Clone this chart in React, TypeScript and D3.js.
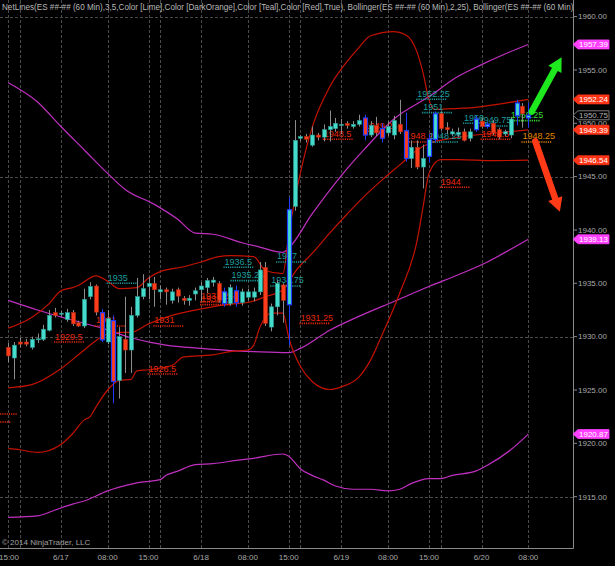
import * as React from 'react';
import * as d3 from 'd3';

const W = 615;
const H = 566;
const plot = { right: 573, bottom: 548 };
const FONT = '"Liberation Sans", Arial, sans-serif';

// 60 min bars, 6/16 15:00 .. 6/20 08:00
const opens = [
  1929.0, 1928.0, 1929.5, 1929.5, 1929.0, 1929.75, 1929.75, 1930.6, 1932.25, 1932.1,
  1931.6, 1932.25, 1931.3, 1931.0, 1933.75, 1934.75, 1932.25, 1929.5, 1931.5, 1925.9,
  1929.75, 1928.75, 1932.0, 1933.75, 1934.7, 1935.0, 1934.2, 1934.4, 1933.4, 1934.4,
  1933.6, 1933.4, 1934.0, 1934.4, 1934.6, 1935.1, 1935.0, 1933.1, 1933.1, 1934.3,
  1933.2, 1933.7, 1933.7, 1934.2, 1936.5, 1930.9, 1932.8, 1934.85, 1933.0, 1942.2,
  1948.6, 1948.75, 1947.95, 1948.9, 1948.7, 1949.4, 1949.5, 1949.8, 1950.0, 1949.7,
  1949.9, 1950.5, 1948.9, 1949.8, 1949.5, 1949.1, 1948.9, 1949.9, 1949.3, 1946.7,
  1947.75, 1945.9, 1946.9, 1948.5, 1950.9, 1949.6, 1949.0, 1948.95, 1949.2, 1948.6,
  1949.4, 1950.2, 1949.7, 1950.0, 1949.4, 1949.0, 1948.9, 1950.7, 1951.6, 1950.5,
];
const highs = [
  1929.4, 1929.5, 1929.9, 1929.8, 1930.0, 1930.3, 1931.1, 1932.5, 1932.7, 1932.4,
  1932.6, 1932.5, 1931.5, 1934.5, 1935.1, 1934.9, 1932.6, 1932.5, 1932.0, 1930.9,
  1933.75, 1932.8, 1935.5, 1935.85, 1935.6, 1935.6, 1934.8, 1934.6, 1934.5, 1934.6,
  1933.8, 1933.9, 1934.6, 1935.1, 1935.5, 1935.6, 1935.2, 1934.6, 1934.9, 1934.8,
  1934.5, 1934.5, 1934.6, 1937.0, 1937.0, 1933.1, 1935.3, 1935.0, 1943.1, 1950.3,
  1948.9, 1949.0, 1949.7, 1949.1, 1949.9, 1951.2, 1950.5, 1950.4, 1950.2, 1950.2,
  1950.8, 1950.8, 1950.2, 1950.6, 1950.0, 1950.2, 1950.7, 1952.2, 1951.0, 1948.4,
  1948.4, 1948.0, 1949.0, 1951.1, 1951.1, 1950.1, 1949.5, 1949.6, 1949.5, 1949.5,
  1950.7, 1950.5, 1950.1, 1950.3, 1949.6, 1949.4, 1950.6, 1952.2, 1951.9, 1951.9,
];
const lows = [
  1927.6, 1926.0, 1929.0, 1929.1, 1928.8, 1929.4, 1929.6, 1930.5, 1931.8, 1931.9,
  1931.4, 1931.0, 1930.9, 1930.8, 1933.5, 1932.0, 1929.5, 1929.3, 1923.75, 1924.2,
  1926.6, 1926.6, 1931.8, 1933.5, 1933.5, 1932.8, 1933.5, 1933.0, 1933.1, 1933.2,
  1933.0, 1932.9, 1933.4, 1933.3, 1934.1, 1934.7, 1933.2, 1932.8, 1932.9, 1932.8,
  1932.9, 1933.4, 1933.3, 1933.9, 1931.0, 1930.5, 1932.0, 1931.3, 1929.2, 1941.8,
  1948.3, 1948.2, 1947.8, 1948.4, 1948.3, 1948.3, 1949.2, 1949.0, 1949.5, 1949.5,
  1949.7, 1948.4, 1948.7, 1948.8, 1948.2, 1948.8, 1948.5, 1949.0, 1946.4, 1945.8,
  1945.7, 1943.9, 1946.3, 1948.2, 1949.3, 1949.0, 1948.8, 1948.7, 1948.3, 1948.3,
  1949.2, 1949.5, 1949.5, 1948.9, 1948.5, 1948.8, 1948.6, 1949.8, 1949.6, 1949.6,
];
const closes = [
  1928.2, 1929.2, 1929.3, 1929.3, 1929.75, 1929.8, 1930.7, 1932.0, 1932.0, 1932.2,
  1932.25, 1931.2, 1931.0, 1933.5, 1934.7, 1932.3, 1929.7, 1931.7, 1925.8, 1930.0,
  1928.75, 1932.0, 1933.75, 1934.5, 1935.0, 1934.4, 1934.4, 1934.2, 1934.2, 1933.8,
  1933.4, 1933.6, 1934.3, 1934.75, 1935.25, 1935.3, 1933.4, 1934.2, 1934.6, 1933.2,
  1934.2, 1934.2, 1934.2, 1936.25, 1931.25, 1932.8, 1935.0, 1933.4, 1941.9, 1948.4,
  1948.75, 1948.5, 1948.9, 1948.7, 1949.4, 1949.7, 1950.0, 1949.9, 1949.8, 1949.9,
  1950.25, 1948.9, 1949.8, 1949.1, 1948.6, 1949.7, 1950.25, 1949.2, 1946.7, 1947.75,
  1945.9, 1946.7, 1948.5, 1950.9, 1949.5, 1949.4, 1949.2, 1949.15, 1948.4, 1949.2,
  1950.4, 1949.7, 1949.9, 1949.1, 1948.7, 1949.2, 1950.4, 1951.9, 1950.9, 1950.75,
];
const blueBars = [16, 18, 37, 39, 48, 61, 64, 68, 72, 73, 80, 82, 87, 89];

const timeLabels = ['15:00', '6/17', '08:00', '15:00', '6/18', '08:00', '15:00', '6/19', '08:00', '15:00', '6/20', '08:00'];
const timeBars = [0, 9, 17, 24, 33, 41, 48, 57, 65, 72, 81, 89];
const sessionBars = [2, 26, 50, 74];
const priceTicks = [1915, 1920, 1925, 1930, 1935, 1940, 1945, 1950, 1955, 1960];
const gridPrices = [1915, 1930, 1945, 1960];

// Bollinger(2,25) – red
const bbUpper: [number, number][] = [
  [0, 1930.8], [4, 1931.8], [7, 1933.1], [9, 1934.3], [11, 1934.6], [12, 1934.8], [15, 1935.7],
  [17, 1935.2], [19, 1934.5], [22, 1934.6], [24, 1935.5], [26, 1936.1], [30, 1936.55], [33, 1937.0],
  [36, 1937.5], [38, 1937.6], [42, 1937.5], [44, 1936.2], [47, 1935.9], [48, 1939.6], [49, 1942.7],
  [52, 1949.6], [55, 1953.4], [58, 1955.8], [60, 1957.1], [62, 1958.2], [66, 1958.6], [68, 1958.3],
  [70, 1956.6], [71, 1954.7], [72, 1952.2], [73, 1951.3], [77, 1951.4], [80, 1951.5], [84, 1951.8],
  [89, 1952.24],
];
const bbMiddle: [number, number][] = [
  [0, 1925.2], [4, 1925.5], [9, 1927.0], [13, 1928.75], [16, 1930.0], [18, 1930.4], [21, 1930.4],
  [24, 1931.2], [28, 1932.0], [33, 1932.6], [38, 1933.05], [41, 1933.2], [44, 1933.75], [47, 1934.4],
  [48, 1935.1], [49, 1936.0], [52, 1937.8], [55, 1939.7], [58, 1941.5], [61, 1943.2], [64, 1944.7],
  [67, 1946.1], [70, 1947.5], [72, 1948.1], [76, 1948.6], [80, 1948.9], [84, 1949.1], [89, 1949.39],
];
const bbLower: [number, number][] = [
  [0, 1919.5], [2, 1919.4], [5, 1919.15], [9, 1919.9], [11, 1920.9], [13, 1922.2], [14, 1922.5],
  [15, 1923.4], [17, 1925.0], [19, 1925.9], [21, 1926.0], [22, 1926.8], [24, 1926.9], [28, 1927.3],
  [30, 1928.1], [35, 1928.3], [38, 1928.6], [41, 1928.75], [42, 1929.2], [43, 1930.8], [45, 1932.2],
  [47, 1932.2], [48, 1929.9], [50, 1927.2], [52, 1925.8], [55, 1925.05], [57, 1925.3], [60, 1926.2],
  [62, 1927.8], [64, 1930.2], [67, 1934.1], [70, 1939.1], [71, 1942.2], [72, 1945.3], [74, 1946.6],
  [77, 1946.6], [83, 1946.5], [89, 1946.54],
];

// second Bollinger – magenta
const bb2Upper: [number, number][] = [
  [0, 1953.8], [5, 1952.0], [9, 1949.7], [13, 1947.5], [17, 1945.3], [20, 1943.8], [25, 1942.4],
  [29, 1941.0], [32, 1939.7], [35, 1939.6], [40, 1938.8], [43, 1938.4], [47, 1937.9], [48, 1938.3],
  [52, 1941.5], [57, 1945.1], [61, 1947.6], [66, 1950.4], [72, 1952.5], [77, 1954.4], [81, 1955.5],
  [85, 1956.5], [89, 1957.39],
];
const bb2Middle: [number, number][] = [
  [0, 1933.4], [5, 1932.5], [10, 1931.7], [16, 1930.8], [21, 1929.9], [27, 1929.2], [33, 1928.9],
  [38, 1928.7], [42, 1928.6], [48, 1928.5], [50, 1928.9], [55, 1930.6], [60, 1931.9], [66, 1933.3],
  [72, 1934.7], [77, 1935.8], [82, 1937.0], [86, 1938.2], [89, 1939.13],
];
const bb2Lower: [number, number][] = [
  [0, 1913.06], [5, 1913.2], [8, 1913.75], [11, 1914.3], [13, 1914.6], [17, 1915.55], [19, 1915.9],
  [22, 1916.3], [26, 1916.6], [27, 1917.0], [29, 1917.4], [32, 1918.0], [35, 1918.1], [39, 1918.4],
  [42, 1918.6], [47, 1919.0], [48, 1918.8], [50, 1917.6], [52, 1917.0], [54, 1916.55], [56, 1916.0],
  [59, 1915.7], [62, 1915.7], [65, 1915.55], [67, 1915.7], [69, 1916.25], [72, 1916.7], [74, 1916.7],
  [76, 1917.0], [80, 1917.4], [82, 1917.95], [86, 1919.4], [89, 1920.87],
];

// NetLines price labels: text, start bar, price, colour (the first two have scrolled off the left edge,
// only their dotted lines remain)
const netTexts = [
  '', '', '1929.5', '1931', '1926.5', '1931', '1935', '1933.25', '1933', '1936.5', '1935.25',
  '1934.75', '1937', '1931.25', '1948.5', '1949.25', '1948.25', '1952.25', '1951', '1948.25', '1944',
  '1950', '1949.75', '1948.5', '1950.25', '1948.25',
];
const netBars = [
  -3.5, -4.6, 8, 15, 24, 25, 17, 33, 33, 37, 38.2,
  45, 46, 50, 54, 61, 68, 70, 71, 72, 74,
  78, 80.5, 81, 86, 88,
];
const netPrices = [
  1922.75, 1922, 1929.5, 1931, 1926.5, 1931, 1935, 1933.25, 1933, 1936.5, 1935.25,
  1934.75, 1937, 1931.25, 1948.5, 1949.25, 1948.25, 1952.25, 1951, 1948.25, 1944,
  1950, 1949.75, 1948.5, 1950.25, 1948.25,
];
const netKinds = [
  'red', 'red', 'red', 'red', 'red', 'red', 'teal', 'red', 'red', 'teal', 'teal',
  'teal', 'teal', 'red', 'red', 'red', 'red', 'teal', 'teal', 'teal', 'red',
  'teal', 'teal', 'red', 'lime', 'orange',
];

const tagPrices = [1957.39, 1952.24, 1950.75, 1949.39, 1946.54, 1939.13, 1920.87];
const tagKinds = ['magenta', 'red', 'last', 'red', 'red', 'magenta', 'magenta'];

// hand drawn arrows: [bar, price] from -> to
const arrowFrom: [number, number][] = [[89.6, 1951.1], [90.2, 1948.3]];
const arrowTo: [number, number][] = [[94.7, 1956.2], [94.4, 1941.7]];
const arrowColors = ['#1ee81e', '#ff3a16'];

const colors: Record<string, string> = {
  red: '#e8280c',
  teal: '#1c9c9c',
  lime: '#38dc38',
  orange: '#e08600',
  up: '#46dccc',
  down: '#ff3c1c',
  wick: '#8c8c8c',
  blue: '#1f3cff',
  band: '#c41200',
  band2: '#c030c0',
  grid: '#4a4a4a',
  axisText: '#a8a8a8',
};

const x = d3.scaleLinear([0, 89], [8.3, 528.3]);
const y = d3.scaleLinear([1915, 1960], [496.7, 16.6]);

const bandLine = d3
  .line<[number, number]>()
  .x((d) => x(d[0]))
  .y((d) => y(d[1]))
  .curve(d3.curveMonotoneX);

const Arrow: React.FC<{ from: [number, number]; to: [number, number]; color: string }> = ({ from, to, color }) => {
  const x0 = x(from[0]);
  const y0 = y(from[1]);
  const x1 = x(to[0]);
  const y1 = y(to[1]);
  const a = Math.atan2(y1 - y0, x1 - x0);
  const headLen = 14;
  const headW = 7.5;
  const bx = x1 - headLen * Math.cos(a);
  const by = y1 - headLen * Math.sin(a);
  const nx = -Math.sin(a);
  const ny = Math.cos(a);
  const head = [
    [x1, y1],
    [bx + nx * headW, by + ny * headW],
    [bx - nx * headW, by - ny * headW],
  ]
    .map((p) => p.join(','))
    .join(' ');
  return (
    <g>
      <line x1={x0} y1={y0} x2={bx} y2={by} stroke={color} strokeWidth={6.5} strokeLinecap="round" />
      <polygon points={head} fill={color} />
    </g>
  );
};

const App: React.FC = () => {
  const bars = d3.range(opens.length);
  const bw = 4;

  return (
    <svg
      width={W}
      height={H}
      viewBox={`0 0 ${W} ${H}`}
      style={{ position: 'absolute', left: 0, top: 0, background: '#000', display: 'block' }}
      fontFamily={FONT}
    >
      <defs>
        <clipPath id="plotClip">
          <rect x={0} y={0} width={plot.right} height={plot.bottom} />
        </clipPath>
      </defs>
      <rect x={0} y={0} width={W} height={H} fill="#000" />

      <g clipPath="url(#plotClip)">
        {/* grid */}
        {[...timeBars, ...sessionBars].map((b, i) => (
          <line
            key={`vg${i}`}
            x1={Math.round(x(b)) + 0.5}
            x2={Math.round(x(b)) + 0.5}
            y1={0}
            y2={plot.bottom}
            stroke={colors.grid}
            strokeDasharray="3 2"
          />
        ))}
        {gridPrices.map((p) => (
          <line
            key={`hg${p}`}
            x1={0}
            x2={plot.right}
            y1={Math.round(y(p)) + 0.5}
            y2={Math.round(y(p)) + 0.5}
            stroke={colors.grid}
            strokeDasharray="3 2"
          />
        ))}

        {/* bollinger bands */}
        {[bb2Upper, bb2Middle, bb2Lower].map((d, i) => (
          <path key={`m${i}`} d={bandLine(d) ?? ''} fill="none" stroke={colors.band2} strokeWidth={1.2} />
        ))}
        {[bbUpper, bbMiddle, bbLower].map((d, i) => (
          <path key={`r${i}`} d={bandLine(d) ?? ''} fill="none" stroke={colors.band} strokeWidth={1.2} />
        ))}

        {/* NetLines labels */}
        {netTexts.map((t, i) => {
          const c = colors[netKinds[i]];
          const yy = y(netPrices[i]);
          const x0 = x(netBars[i]);
          return (
            <g key={`n${i}`}>
              <line
                x1={x0 - 1}
                x2={x(netBars[i] + 5)}
                y1={yy}
                y2={yy}
                stroke={c}
                strokeWidth={1.6}
                strokeDasharray="1.2 1"
              />
              {t && (
                <text x={x0} y={yy - 2.5} fill={c} fontSize={9}>
                  {t}
                </text>
              )}
            </g>
          );
        })}

        {/* candles */}
        {bars.map((i) => {
          const o = opens[i];
          const c = closes[i];
          const up = c >= o;
          const blue = blueBars.includes(i);
          const cx = Math.round(x(i)) + 0.5;
          const top = y(Math.max(o, c));
          const bot = y(Math.min(o, c));
          return (
            <g key={`c${i}`}>
              <line
                x1={cx}
                x2={cx}
                y1={y(highs[i])}
                y2={y(lows[i])}
                stroke={blue ? colors.blue : colors.wick}
                strokeWidth={1}
              />
              <rect
                x={cx - bw / 2}
                y={top}
                width={bw}
                height={Math.max(1, bot - top)}
                fill={up ? colors.up : colors.down}
                stroke={blue ? colors.blue : up ? '#2a9c94' : '#b02a10'}
                strokeWidth={blue ? 1.2 : 0.6}
              />
            </g>
          );
        })}

        {/* title */}
        <text x={2} y={10} fill="#b8b8b8" fontSize={8.15}>
          NetLines(ES ##-## (60 Min),3,5,Color [Lime],Color [DarkOrange],Color [Teal],Color [Red],True), Bollinger(ES ##-## (60 Min),2,25), Bollinger(ES ##-## (60 Min),2,50)
        </text>
        <text x={2} y={545} fill="#a0a0a0" fontSize={8}>
          © 2014 NinjaTrader, LLC
        </text>
      </g>

      {/* arrows */}
      {arrowFrom.map((f, i) => (
        <Arrow key={`a${i}`} from={f} to={arrowTo[i]} color={arrowColors[i]} />
      ))}

      {/* frame */}
      <line x1={plot.right + 0.5} x2={plot.right + 0.5} y1={0} y2={plot.bottom + 0.5} stroke="#8a8a8a" />
      <line x1={0} x2={plot.right + 0.5} y1={plot.bottom + 0.5} y2={plot.bottom + 0.5} stroke="#8a8a8a" />

      {/* price axis */}
      {priceTicks.map((p) => (
        <g key={`pt${p}`} transform={`translate(0,${y(p)})`}>
          <line x1={plot.right} x2={plot.right + 4} stroke="#8a8a8a" />
          <text x={plot.right + 5} dy="0.35em" fill={colors.axisText} fontSize={8}>
            {d3.format('.2f')(p)}
          </text>
        </g>
      ))}

      {/* price tags */}
      {tagPrices.map((p, i) => {
        const k = tagKinds[i];
        const yy = y(p);
        const fill = k === 'magenta' ? '#ff40ff' : k === 'red' ? '#ff3416' : '#000';
        const stroke = k === 'last' ? '#9a9a9a' : fill;
        const path = `M${plot.right},${yy} L${plot.right + 5},${yy - 4.5} L${plot.right + 36},${yy - 4.5} L${plot.right + 36},${yy + 4.5} L${plot.right + 5},${yy + 4.5} Z`;
        return (
          <g key={`tag${i}`}>
            <path d={path} fill={fill} stroke={stroke} strokeWidth={0.8} />
            <text x={plot.right + 6} y={yy} dy="0.35em" fill={k === 'last' ? '#b0b0b0' : '#fff'} fontSize={8}>
              {d3.format('.2f')(p)}
            </text>
          </g>
        );
      })}

      {/* time axis */}
      {timeLabels.map((t, i) => (
        <text
          key={`tl${i}`}
          x={Math.max(x(timeBars[i]), 9)}
          y={560}
          textAnchor="middle"
          fill={colors.axisText}
          fontSize={8}
        >
          {t}
        </text>
      ))}
    </svg>
  );
};

export default App;
